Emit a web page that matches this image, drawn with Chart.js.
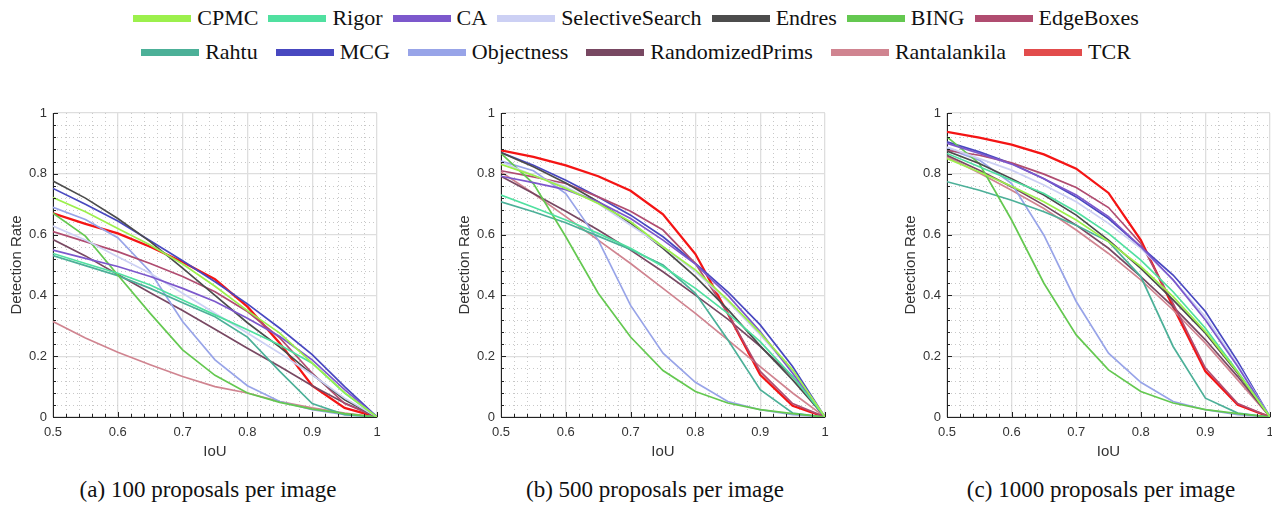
<!DOCTYPE html>
<html>
<head>
<meta charset="utf-8">
<script src="https://cdn.jsdelivr.net/npm/chart.js@4.4.1/dist/chart.umd.min.js"></script>
<style>
  body { margin: 0; width: 1272px; height: 508px; background: #fff; position: relative; overflow: hidden; }
  .legend { position: absolute; left: 0; width: 1272px; display: flex; justify-content: center; font-family: "Liberation Serif", "Times New Roman", serif; font-size: 22px; color: #111; }
  .legend .item { display: flex; align-items: center; margin: 0 5px; }
  #row2 .item { margin: 0 9px; }
  .legend .sw { width: 58px; height: 7px; margin-right: 6px; }
  canvas { position: absolute; }
  .caption { position: absolute; top: 477px; width: 400px; text-align: center; font-family: "Liberation Serif", "Times New Roman", serif; font-size: 23px; color: #111; }
</style>
</head>
<body>
<div class="legend" id="row1" style="top:5px"></div>
<div class="legend" id="row2" style="top:39px"></div>

<canvas id="c100" width="390" height="356" style="left:0px;top:105px"></canvas>
<canvas id="c500" width="390" height="356" style="left:448px;top:105px"></canvas>
<canvas id="c1000" width="378" height="356" style="left:894px;top:105px"></canvas>

<div class="caption" style="left:8px">(a) 100 proposals per image</div>
<div class="caption" style="left:455px">(b) 500 proposals per image</div>
<div class="caption" style="left:901px">(c) 1000 proposals per image</div>

<script>
const iou = [0.5, 0.55, 0.6, 0.65, 0.7, 0.75, 0.8, 0.85, 0.9, 0.95, 1.0];

const methods = ["CPMC", "Rigor", "CA", "SelectiveSearch", "Endres", "BING", "EdgeBoxes",
                 "Rahtu", "MCG", "Objectness", "RandomizedPrims", "Rantalankila", "TCR"];
const colors = ["#9cf04c", "#50e0a0", "#7c58cc", "#ccd0f4", "#4c4c4c", "#64c850", "#b04c70",
                "#4cb098", "#4848c0", "#98a4e8", "#784862", "#d08490", "#f41414"];

// detection rate per method (same order as methods), 100 proposals
const rate100 = [
  [0.722, 0.675, 0.62, 0.566, 0.503, 0.43, 0.35, 0.276, 0.177, 0.08, 0],   // CPMC
  [0.538, 0.505, 0.473, 0.434, 0.385, 0.336, 0.287, 0.237, 0.177, 0.079, 0], // Rigor
  [0.549, 0.522, 0.495, 0.462, 0.423, 0.38, 0.325, 0.265, 0.188, 0.09, 0],  // CA
  [0.628, 0.582, 0.527, 0.473, 0.407, 0.341, 0.276, 0.21, 0.139, 0.062, 0], // SelectiveSearch
  [0.776, 0.72, 0.653, 0.577, 0.49, 0.40, 0.31, 0.23, 0.14, 0.057, 0],      // Endres
  [0.67, 0.595, 0.467, 0.341, 0.221, 0.137, 0.079, 0.048, 0.026, 0.011, 0], // BING
  [0.61, 0.577, 0.544, 0.505, 0.462, 0.412, 0.347, 0.26, 0.144, 0.044, 0],  // EdgeBoxes
  [0.531, 0.498, 0.465, 0.423, 0.376, 0.33, 0.263, 0.15, 0.044, 0.008, 0],  // Rahtu
  [0.752, 0.70, 0.645, 0.58, 0.514, 0.445, 0.372, 0.292, 0.205, 0.10, 0],   // MCG
  [0.69, 0.65, 0.59, 0.478, 0.314, 0.188, 0.103, 0.051, 0.024, 0.008, 0],   // Objectness
  [0.584, 0.53, 0.469, 0.409, 0.35, 0.289, 0.226, 0.166, 0.103, 0.046, 0],  // RandomizedPrims
  [0.314, 0.26, 0.213, 0.172, 0.133, 0.10, 0.079, 0.051, 0.03, 0.013, 0],   // Rantalankila
  [0.67, 0.635, 0.604, 0.56, 0.51, 0.453, 0.363, 0.243, 0.103, 0.03, 0]     // TCR
];

// 500 proposals
const rate500 = [
  [0.831, 0.795, 0.752, 0.702, 0.642, 0.56, 0.484, 0.385, 0.276, 0.155, 0],
  [0.73, 0.69, 0.648, 0.604, 0.555, 0.495, 0.423, 0.341, 0.248, 0.133, 0],
  [0.792, 0.771, 0.748, 0.708, 0.653, 0.582, 0.503, 0.401, 0.281, 0.144, 0],
  [0.839, 0.795, 0.757, 0.702, 0.631, 0.56, 0.478, 0.38, 0.27, 0.15, 0],
  [0.87, 0.823, 0.77, 0.708, 0.637, 0.555, 0.462, 0.354, 0.234, 0.122, 0],
  [0.867, 0.768, 0.593, 0.407, 0.263, 0.153, 0.084, 0.046, 0.024, 0.011, 0],
  [0.81, 0.79, 0.768, 0.724, 0.677, 0.615, 0.505, 0.341, 0.15, 0.044, 0],
  [0.708, 0.675, 0.639, 0.595, 0.551, 0.50, 0.407, 0.254, 0.09, 0.013, 0],
  [0.87, 0.828, 0.779, 0.724, 0.664, 0.593, 0.505, 0.412, 0.303, 0.166, 0],
  [0.842, 0.81, 0.735, 0.582, 0.367, 0.21, 0.114, 0.051, 0.024, 0.008, 0],
  [0.792, 0.735, 0.677, 0.615, 0.549, 0.478, 0.401, 0.322, 0.232, 0.133, 0],
  [0.806, 0.735, 0.659, 0.582, 0.505, 0.423, 0.341, 0.254, 0.166, 0.079, 0],
  [0.877, 0.856, 0.828, 0.792, 0.744, 0.667, 0.536, 0.341, 0.139, 0.037, 0]
];

// 1000 proposals
const rate1000 = [
  [0.85, 0.806, 0.759, 0.708, 0.648, 0.577, 0.495, 0.396, 0.281, 0.147, 0],
  [0.867, 0.823, 0.779, 0.735, 0.675, 0.604, 0.516, 0.412, 0.292, 0.15, 0],
  [0.90, 0.867, 0.832, 0.784, 0.73, 0.659, 0.56, 0.451, 0.319, 0.166, 0],
  [0.888, 0.85, 0.812, 0.763, 0.708, 0.637, 0.555, 0.451, 0.33, 0.172, 0],
  [0.875, 0.834, 0.784, 0.73, 0.664, 0.582, 0.489, 0.385, 0.276, 0.144, 0],
  [0.921, 0.834, 0.648, 0.44, 0.27, 0.155, 0.084, 0.046, 0.024, 0.011, 0],
  [0.877, 0.861, 0.836, 0.799, 0.755, 0.689, 0.571, 0.374, 0.161, 0.044, 0],
  [0.774, 0.746, 0.713, 0.675, 0.631, 0.577, 0.462, 0.232, 0.062, 0.013, 0],
  [0.905, 0.872, 0.834, 0.784, 0.724, 0.653, 0.56, 0.467, 0.347, 0.183, 0],
  [0.883, 0.845, 0.768, 0.598, 0.38, 0.21, 0.114, 0.051, 0.024, 0.008, 0],
  [0.861, 0.812, 0.757, 0.697, 0.631, 0.555, 0.462, 0.363, 0.254, 0.133, 0],
  [0.856, 0.803, 0.746, 0.686, 0.615, 0.538, 0.451, 0.352, 0.243, 0.122, 0],
  [0.938, 0.919, 0.896, 0.864, 0.817, 0.737, 0.582, 0.363, 0.15, 0.04, 0]
];

// shared legend, 7 items on the first row, 6 on the second
methods.forEach((name, i) => {
  const item = document.createElement("div");
  item.className = "item";
  const sw = name === "TCR" ? "#e24c4c" : colors[i];
  item.innerHTML = '<span class="sw" style="background:' + sw + '"></span><span>' + name + "</span>";
  document.getElementById(i < 7 ? "row1" : "row2").appendChild(item);
});

// dotted minor grid + inward tick marks, like the matlab figure
const minorGrid = {
  id: "minorGrid",
  beforeDatasetsDraw(chart) {
    const { ctx, chartArea: a, scales: { x, y } } = chart;
    ctx.save();
    ctx.strokeStyle = "#c8c8c8";
    ctx.lineWidth = 1;
    ctx.setLineDash([1, 3]);
    ctx.beginPath();
    for (let k = 1; k < 25; k++) {
      if (k % 5 === 0) continue;
      const px = Math.round(x.getPixelForValue(0.5 + k * 0.02)) + 0.5;
      ctx.moveTo(px, a.top);
      ctx.lineTo(px, a.bottom);
    }
    for (let k = 1; k < 25; k++) {
      if (k % 5 === 0) continue;
      const py = Math.round(y.getPixelForValue(k * 0.04)) + 0.5;
      ctx.moveTo(a.left, py);
      ctx.lineTo(a.right, py);
    }
    ctx.stroke();
    ctx.restore();
  },
  afterDraw(chart) {
    const { ctx, chartArea: a, scales: { x, y } } = chart;
    ctx.save();
    ctx.strokeStyle = "#222";
    ctx.lineWidth = 1;
    ctx.beginPath();
    for (let k = 0; k <= 25; k++) {
      const px = Math.round(x.getPixelForValue(0.5 + k * 0.02)) + 0.5;
      const len = k % 5 === 0 ? 5 : 3;
      ctx.moveTo(px, a.bottom);
      ctx.lineTo(px, a.bottom - len);
    }
    for (let k = 0; k <= 25; k++) {
      const py = Math.round(y.getPixelForValue(k * 0.04)) + 0.5;
      const len = k % 5 === 0 ? 5 : 3;
      ctx.moveTo(a.left, py);
      ctx.lineTo(a.left + len, py);
    }
    ctx.stroke();
    ctx.restore();
  }
};

function fmt(v) {
  return String(Number(v.toFixed(2)));
}

function makeChart(id, rates) {
  const datasets = methods.map((name, i) => ({
    label: name,
    data: iou.map((v, j) => ({ x: v, y: rates[i][j] })),
    borderColor: colors[i],
    backgroundColor: colors[i],
    borderWidth: name === "TCR" ? 2.3 : 1.7,
    pointRadius: 0,
    tension: 0,
    fill: false
  }));

  return new Chart(document.getElementById(id), {
    type: "line",
    data: { datasets },
    plugins: [minorGrid],
    options: {
      responsive: false,
      animation: false,
      layout: { padding: { top: 8, right: id === "c1000" ? 2 : 13, left: 0, bottom: 0 } },
      plugins: { legend: { display: false }, tooltip: { enabled: false } },
      scales: {
        x: {
          type: "linear",
          min: 0.5,
          max: 1,
          afterFit: (s) => { s.height = 44; s.paddingLeft = 0; s.paddingRight = 0; },
          ticks: { stepSize: 0.1, padding: 8, color: "#333", font: { family: "Liberation Sans", size: 13 }, callback: fmt, maxRotation: 0 },
          grid: { color: "#dedede", lineWidth: 1.3, drawTicks: false },
          border: { color: "#222", width: 1 },
          title: { display: true, text: "IoU", color: "#333", font: { family: "Liberation Sans", size: 15 }, padding: { top: 0, bottom: 0 } }
        },
        y: {
          min: 0,
          max: 1,
          afterFit: (s) => { s.width = 53; s.paddingTop = 0; s.paddingBottom = 0; },
          ticks: { stepSize: 0.2, padding: 6, color: "#333", font: { family: "Liberation Sans", size: 13 }, callback: fmt },
          grid: { color: "#dedede", lineWidth: 1.3, drawTicks: false },
          border: { color: "#222", width: 1 },
          title: { display: true, text: "Detection Rate", color: "#333", font: { family: "Liberation Sans", size: 15 }, padding: { top: 8, bottom: 0 } }
        }
      }
    }
  });
}

makeChart("c100", rate100);
makeChart("c500", rate500);
makeChart("c1000", rate1000);
</script>
</body>
</html>
